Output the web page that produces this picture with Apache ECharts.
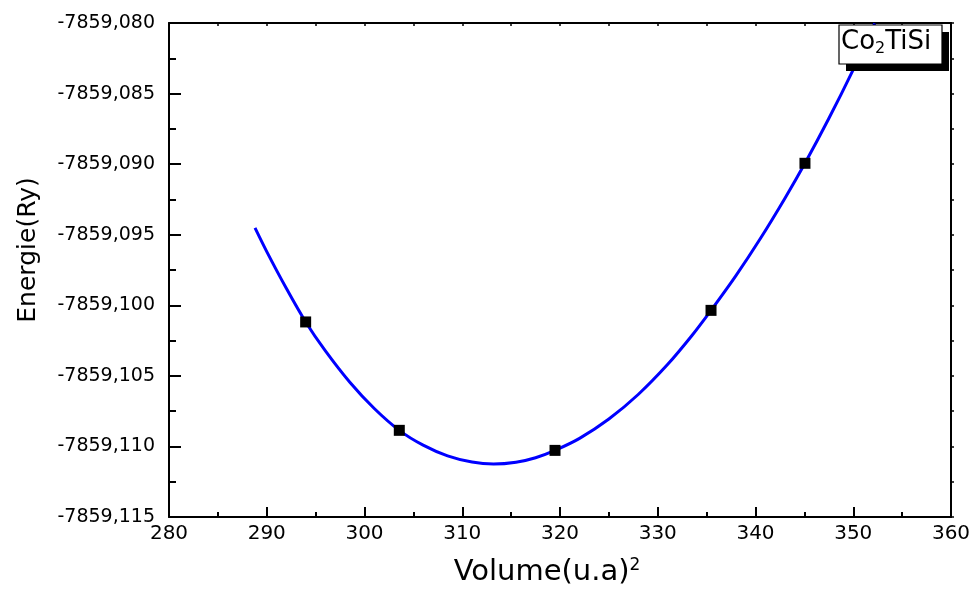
<!DOCTYPE html>
<html>
<head>
<meta charset="utf-8">
<script src="https://cdn.jsdelivr.net/npm/echarts@6/dist/echarts.min.js"></script>
<style>html,body{margin:0;padding:0;background:#fff}#c{width:971px;height:590px}</style>
</head>
<body>
<div id="c"></div>
<script>
// Measured points (Volume, Energy)
var pointVolumes = [293.98, 303.56, 319.49, 335.45, 345.06];
var pointEnergies = [-7859.10118, -7859.10886, -7859.11028, -7859.10036, -7859.08994];
// Fitted curve
var curveVolumes = [288.8, 290, 292, 293.98, 296, 298.5, 301, 303.56, 306, 308.5, 311, 313.2, 315.5, 317.5, 319.49, 322, 325, 328, 331, 333.5, 335.45, 338, 340.5, 343, 345.06, 347.5, 350, 352.2];
var curveEnergies = [-7859.09452, -7859.09620, -7859.09880, -7859.10118, -7859.10323, -7859.10545, -7859.10731, -7859.10886, -7859.10991, -7859.11067, -7859.11111, -7859.11125, -7859.11112, -7859.11080, -7859.11028, -7859.10943, -7859.10806, -7859.10632, -7859.10420, -7859.10214, -7859.10036, -7859.09790, -7859.09527, -7859.09243, -7859.08994, -7859.08677, -7859.08330, -7859.08003];
var xTicks = [280, 290, 300, 310, 320, 330, 340, 350, 360];
var yTicks = [-7859.115, -7859.110, -7859.105, -7859.100, -7859.095, -7859.090, -7859.085, -7859.080];

var FONT = 'DejaVu Sans';
var chart = echarts.init(document.getElementById('c'));
var curve = curveVolumes.map(function (v, i) { return [v, curveEnergies[i]]; });
var pts = pointVolumes.map(function (v, i) { return [v, pointEnergies[i]]; });

chart.setOption({
  animation: false,
  backgroundColor: '#fff',
  grid: { left: 169, top: 23, right: 20, bottom: 73, containLabel: false, outerBoundsMode: 'none' },
  xAxis: [{
    type: 'value', min: xTicks[0], max: xTicks[xTicks.length - 1], interval: 10,
    name: '{a|Volume(u.a)}{s|2}', nameLocation: 'middle', nameGap: 40,
    nameTextStyle: { padding: [0, 26, 0, 0], rich: { a: { fontFamily: FONT, fontSize: 29, color: '#000' }, s: { fontFamily: FONT, fontSize: 17, color: '#000', verticalAlign: 'top', padding: [0, 0, 14, 0] } } },
    axisLine: { show: true, onZero: false, lineStyle: { color: '#000', width: 2 } },
    axisTick: { show: true, inside: true, length: 10, lineStyle: { color: '#000', width: 2 } },
    minorTick: { show: true, splitNumber: 2, length: 5, lineStyle: { color: '#000', width: 2 } },
    axisLabel: { fontFamily: FONT, fontSize: 20, color: '#000', margin: 7 },
    splitLine: { show: false }
  }, {
    type: 'value', position: 'top', min: xTicks[0], max: xTicks[xTicks.length - 1], interval: 5,
    axisLine: { show: true, onZero: false, lineStyle: { color: '#000', width: 2 } },
    axisTick: { show: true, inside: true, length: 3, lineStyle: { color: '#000', width: 1.5 } },
    axisLabel: { show: false }, splitLine: { show: false }
  }],
  yAxis: [{
    type: 'value', min: yTicks[0], max: yTicks[yTicks.length - 1], interval: 0.005,
    name: 'Energie(Ry)', nameLocation: 'middle', nameGap: 128, nameRotate: 90,
    nameTextStyle: { fontFamily: FONT, fontSize: 25, color: '#000', padding: [0, 0, 0, 40] },
    axisLine: { show: true, onZero: false, lineStyle: { color: '#000', width: 2 } },
    axisTick: { show: true, inside: true, length: 12, lineStyle: { color: '#000', width: 2 } },
    minorTick: { show: true, splitNumber: 2, length: 7, lineStyle: { color: '#000', width: 2 } },
    axisLabel: { fontFamily: FONT, fontSize: 19, color: '#000', margin: 14,
      formatter: function (v) { return v.toFixed(3).replace('.', ','); } },
    splitLine: { show: false }
  }, {
    type: 'value', position: 'right', min: yTicks[0], max: yTicks[yTicks.length - 1], interval: 0.0025,
    axisLine: { show: true, onZero: false, lineStyle: { color: '#000', width: 2 } },
    axisTick: { show: true, inside: false, length: 3, lineStyle: { color: '#000', width: 1.5 } },
    axisLabel: { show: false }, splitLine: { show: false }
  }],
  graphic: [
    { type: 'rect', z: 100, shape: { x: 846, y: 32, width: 103, height: 39 }, style: { fill: '#000' } },
    { type: 'rect', z: 101, shape: { x: 839, y: 25, width: 103, height: 39 }, style: { fill: '#fff', stroke: '#000', lineWidth: 1.2 } },
    { type: 'text', z: 102, x: 841, y: 28, style: {
      text: '{a|Co}{b|2}{a|TiSi}',
      rich: { a: { fontFamily: FONT, fontSize: 26, fill: '#000', color: '#000' }, b: { fontFamily: FONT, fontSize: 16, fill: '#000', color: '#000', padding: [13, 0, 0, 0] } }
    } }
  ],
  series: [{
    type: 'line', data: curve, smooth: 0.3, showSymbol: false, symbol: 'none',
    lineStyle: { color: '#0000ff', width: 3 }, clip: true, z: 3
  }, {
    type: 'scatter', data: pts, symbol: 'rect', symbolSize: 11,
    itemStyle: { color: '#000', opacity: 1 }, z: 4
  }]
});
</script>
</body>
</html>
